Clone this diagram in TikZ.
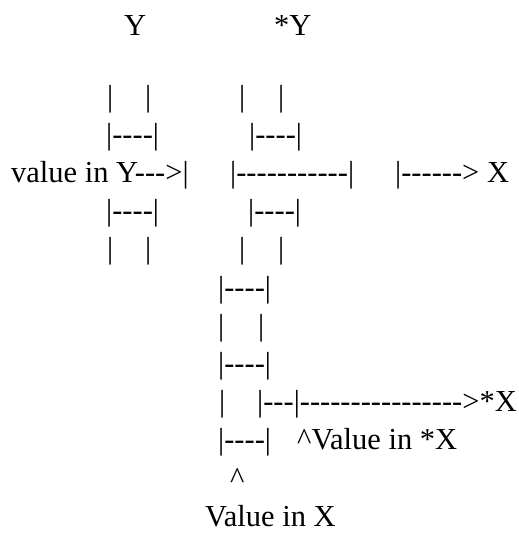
\documentclass[tikz,border=0pt]{standalone}
\usepackage{fontspec}
\setmainfont{Liberation Serif}[Ligatures=TeXOff]
\usepackage{tikz}

\begin{document}
\begin{tikzpicture}[
  x=1pt, y=-1pt,
  txt/.style={anchor=base west, inner sep=0pt, font=\fontsize{30.5}{36}\selectfont}
]
  \useasboundingbox (0,0) rectangle (519,533);

  \node[txt] (ylbl) at (124,35) {Y};
  \node[txt] (pylbl) at (274,35) {*Y};

  \foreach \yy/\r in {106/a,258.8/b}{
    \node[txt] (yl\r) at (107,\yy) {|};
    \node[txt] (yr\r) at (145,\yy) {|};
    \node[txt] (pl\r) at (239,\yy) {|};
    \node[txt] (pr\r) at (278,\yy) {|};
  }
  \node[txt] (ytop) at (106,144.2) {|----|};
  \node[txt] (ptop) at (249,144.2) {|----|};
  \node[txt] (ybot) at (106,220.6) {|----|};
  \node[txt] (pbot) at (248,220.6) {|----|};

  \node[txt] (valy) at (11,182.4) {value in Y--->|};
  \node[txt] (mid) at (230,182.4) {|-----------|};
  \node[txt] (tox) at (395,182.4) {|------> X};

  \node[txt] (xtop) at (218,297) {|----|};
  \node[txt] (xl) at (218,335.2) {|};
  \node[txt] (xr) at (258,335.2) {|};
  \node[txt] (xmid) at (218,373.4) {|----|};
  \node[txt] (xll) at (219,411.6) {|};
  \node[txt] (topx) at (257,411.6) {|---|---------------->*X};
  \node[txt] (xbot) at (218,449.8) {|----|};
  \node[txt] (valpx) at (297,449.8) {\textasciicircum Value in *X};
  \node[txt] (caret) at (230,488) {\textasciicircum};
  \node[txt] (valx) at (205,526.2) {Value in X};
\end{tikzpicture}
\end{document}
